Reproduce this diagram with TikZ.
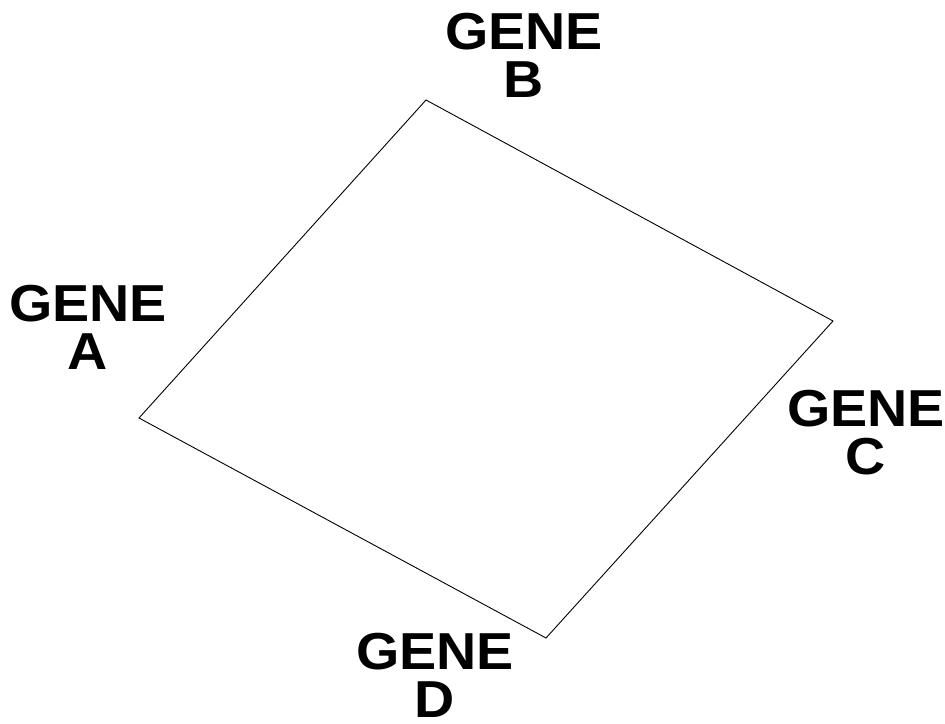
\documentclass[tikz,border=0pt]{standalone}
\usepackage{graphicx}
\usepackage{fontspec}
\setmainfont{Liberation Sans}
\newcommand{\genewide}[1]{\scalebox{1.07}[1]{#1}}
\begin{document}
\begin{tikzpicture}[x=1pt,y=-1pt,
  gene/.style={font=\fontsize{52}{48}\selectfont\bfseries, align=center, anchor=north, inner sep=0pt, text depth=0pt},
  edge/.style={draw=black, line width=0.9pt}]
\useasboundingbox (0,0) rectangle (945,723);
\coordinate (top) at (426,100);
\coordinate (right) at (833,321);
\coordinate (bottom) at (546,638);
\coordinate (left) at (139,418);
\draw[edge] (top) -- (right) -- (bottom) -- (left) -- cycle;
\node[gene] (gb) at (524,13) {\genewide{GENE}\\\genewide{B}};
\node[gene] (ga) at (88,285) {\genewide{GENE}\\\genewide{A}};
\node[gene] (gc) at (866,390) {\genewide{GENE}\\\genewide{C}};
\node[gene] (gd) at (435,633) {\genewide{GENE}\\\genewide{D}};
\end{tikzpicture}
\end{document}
